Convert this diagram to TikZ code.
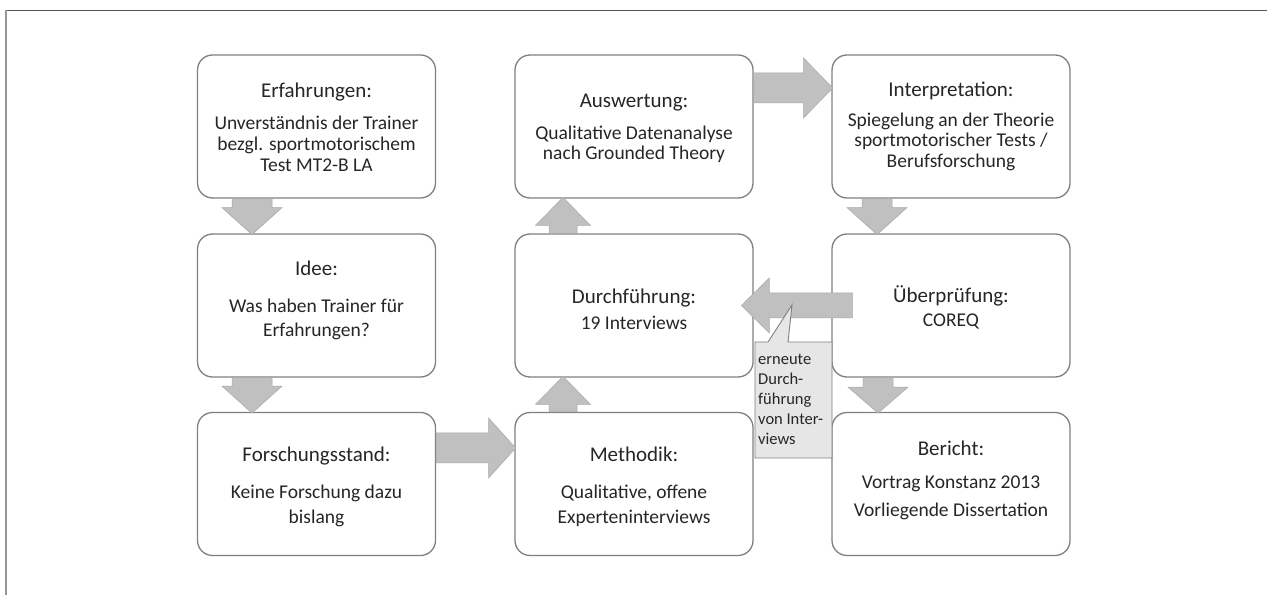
\documentclass[tikz,border=0pt]{standalone}
\usepackage{fontspec}
\setmainfont{Carlito}
\usetikzlibrary{calc}

\definecolor{boxline}{RGB}{128,128,128}
\definecolor{txt}{RGB}{38,38,38}
\definecolor{arrowfill}{RGB}{192,192,192}
\definecolor{arrowline}{RGB}{168,168,168}
\definecolor{notefill}{RGB}{230,230,230}
\definecolor{frametop}{RGB}{85,85,85}
\definecolor{frameleft}{RGB}{150,150,150}

% block arrow: start point, direction, length, shaft half width, head half width, head length
\newcommand\BArrow[6]{%
  \filldraw[blockarrow, shift={#1}, rotate=#2]
    (0,-#4) -- ({#3-#6},-#4) -- ({#3-#6},-#5) -- (#3,0)
    -- ({#3-#6},#5) -- ({#3-#6},#4) -- (0,#4) -- cycle;}

\tikzset{
  stage/.style={draw=boxline, line width=1.3pt, fill=white, rounded corners=15pt,
    minimum width=238pt, minimum height=143pt, inner sep=0pt},
  ttl/.style={font=\fontsize{21}{21}\selectfont, text=txt, anchor=base, inner sep=0pt},
  bdy/.style={font=\fontsize{19.5}{21}\selectfont, text=txt, anchor=base, inner sep=0pt},
  notetxt/.style={font=\fontsize{16.5}{20}\selectfont, text=txt, anchor=base west, inner sep=0pt},
  blockarrow/.style={fill=arrowfill, draw=arrowline, line width=0.5pt},
}

\begin{document}
\begin{tikzpicture}[x=1pt, y=1pt]
\useasboundingbox (0,0) rectangle (1267,595);

% page frame
\draw[frametop, line width=1.2pt] (5.5,584.5) -- (1267,584.5);
\draw[frameleft, line width=1.3pt] (6,0) -- (6,584.5);

% stages
\node[stage] (e) at (316.5,468.5) {};
\node[stage] (i) at (316.5,289.5) {};
\node[stage] (f) at (316.5,111) {};
\node[stage] (a) at (634,468.5) {};
\node[stage] (d) at (634,289.5) {};
\node[stage] (m) at (634,111) {};
\node[stage] (p) at (951,468.5) {};
\node[stage] (u) at (951,289.5) {};
\node[stage] (r) at (951,111) {};

% stage texts
\node[ttl] (e0) at ([yshift=-43pt]e.north) {Erfahrungen:};
\node[bdy] (e1) at ([yshift=-75pt]e.north) {Unverständnis der Trainer};
\node[bdy] (e2) at ([yshift=-96pt]e.north) {bezgl. sportmotorischem};
\node[bdy] (e3) at ([yshift=-117pt]e.north) {Test MT2-B LA};

\node[ttl] (i0) at ([yshift=-42pt]i.north) {Idee:};
\node[bdy] (i1) at ([yshift=-79pt]i.north) {Was haben Trainer für};
\node[bdy] (i2) at ([yshift=-103pt]i.north) {Erfahrungen?};

\node[ttl] (f0) at ([yshift=-50pt]f.north) {Forschungsstand:};
\node[bdy] (f1) at ([yshift=-87pt]f.north) {Keine Forschung dazu};
\node[bdy] (f2) at ([yshift=-112pt]f.north) {bislang};

\node[ttl] (a0) at ([yshift=-53pt]a.north) {Auswertung:};
\node[bdy] (a1) at ([yshift=-85pt]a.north) {Qualitative Datenanalyse};
\node[bdy] (a2) at ([yshift=-105pt]a.north) {nach Grounded Theory};

\node[ttl] (d0) at ([yshift=-70pt]d.north) {Durchführung:};
\node[bdy] (d1) at ([yshift=-96pt]d.north) {19 Interviews};

\node[ttl] (m0) at ([yshift=-50pt]m.north) {Methodik:};
\node[bdy] (m1) at ([yshift=-87pt]m.north) {Qualitative, offene};
\node[bdy] (m2) at ([yshift=-112pt]m.north) {Experteninterviews};

\node[ttl] (p0) at ([yshift=-42pt]p.north) {Interpretation:};
\node[bdy] (p1) at ([yshift=-72pt]p.north) {Spiegelung an der Theorie};
\node[bdy] (p2) at ([yshift=-92pt]p.north) {sportmotorischer Tests /};
\node[bdy] (p3) at ([yshift=-113pt]p.north) {Berufsforschung};

\node[ttl] (u0) at ([yshift=-69pt]u.north) {Überprüfung:};
\node[bdy] (u1) at ([yshift=-93pt]u.north) {COREQ};

\node[ttl] (r0) at ([yshift=-44pt]r.north) {Bericht:};
\node[bdy] (r1) at ([yshift=-77pt]r.north) {Vortrag Konstanz 2013};
\node[bdy] (r2) at ([yshift=-105pt]r.north) {Vorliegende Dissertation};

% block arrows between the stages
\BArrow{([xshift=-64.5pt]e.south)}{-90}{36}{20}{30}{27}
\BArrow{([xshift=-64.5pt]i.south)}{-90}{35.5}{20}{30}{27}
\BArrow{([yshift=36pt]f.east)}{0}{79.5}{15}{30}{27}
\BArrow{([xshift=-71pt]m.north)}{90}{35.5}{14}{27.5}{28}
\BArrow{([xshift=-71pt]d.north)}{90}{36}{14}{27.5}{28}
\BArrow{([yshift=38.5pt]a.east)}{0}{79}{15}{30}{29}
\BArrow{([xshift=-74pt]p.south)}{-90}{36}{15}{30}{27}
\BArrow{([xshift=-73pt]u.south)}{-90}{35.5}{15}{30}{26}
\BArrow{([xshift=21pt]u.west)}{180}{111}{12.5}{27.5}{28}

% callout with its pointer
\filldraw[fill=notefill, draw=boxline, line width=0.9pt]
  (755,253) -- (768,253) -- (792,290) -- (788,253) -- (832,253)
  -- (832,137) -- (755,137) -- cycle;
\node[notetxt] (n1) at (758,230) {erneute};
\node[notetxt] (n2) at (758,210) {Durch-};
\node[notetxt] (n3) at (758,190) {führung};
\node[notetxt] (n4) at (758,170) {von Inter-};
\node[notetxt] (n5) at (758,150) {views};
\end{tikzpicture}
\end{document}
